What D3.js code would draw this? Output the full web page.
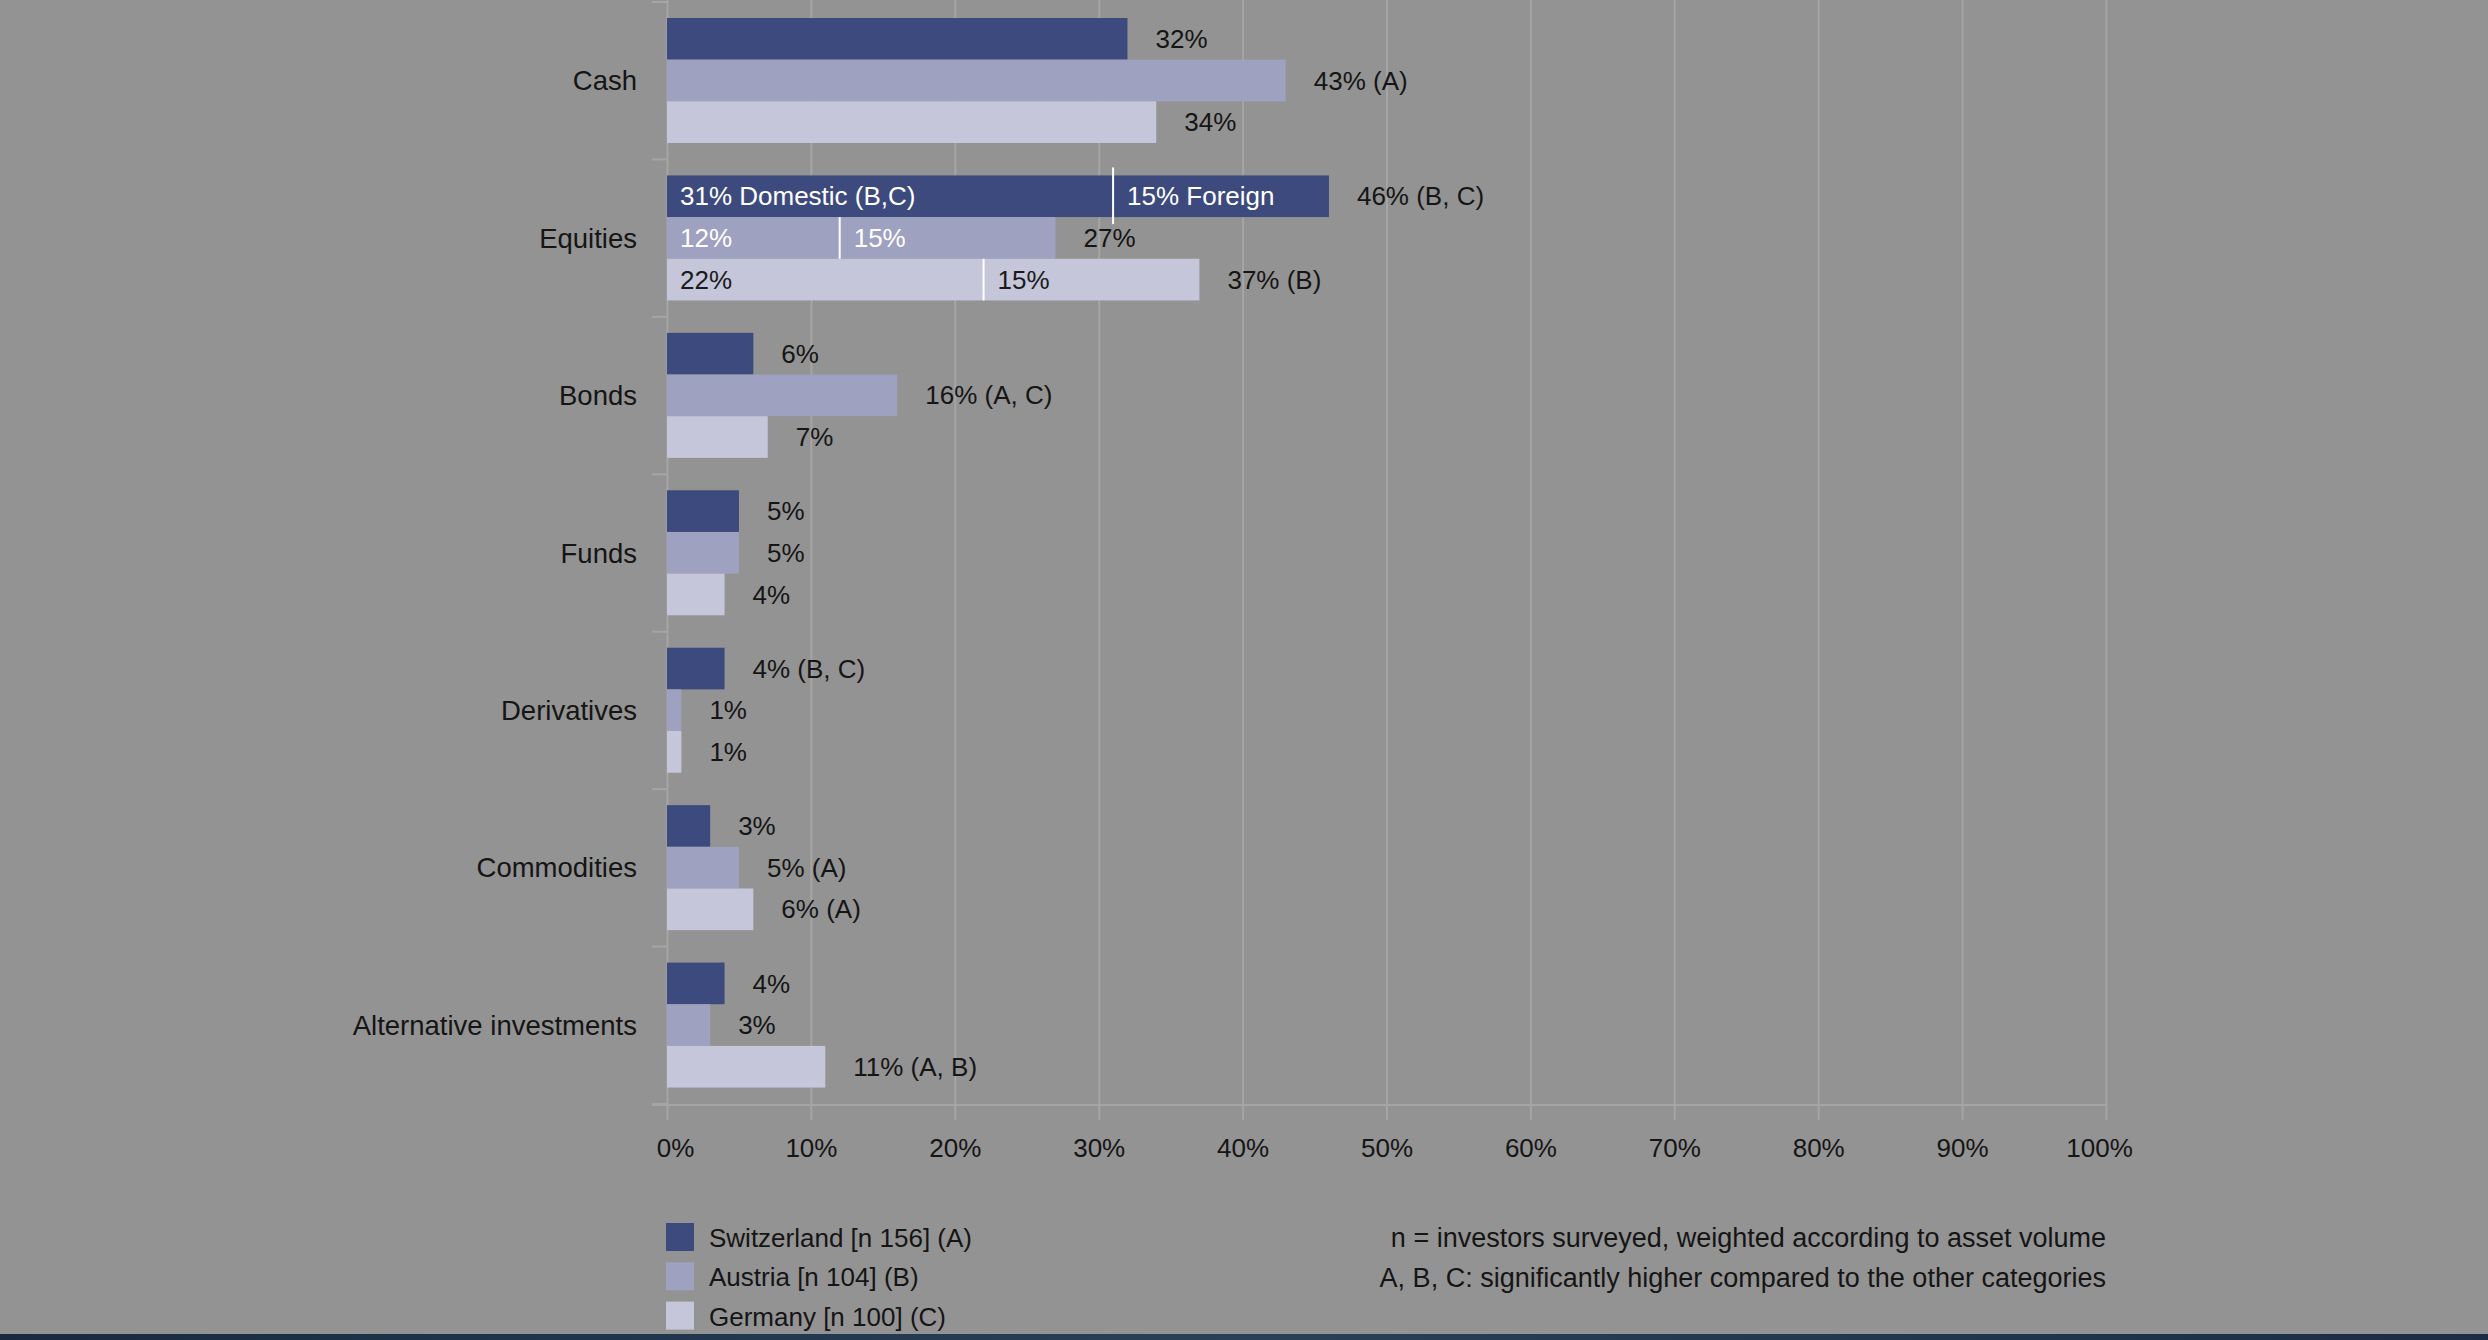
<!DOCTYPE html>
<html>
<head>
<meta charset="utf-8">
<script src="https://cdn.jsdelivr.net/npm/d3@7"></script>
<style>
  html, body { margin: 0; padding: 0; background: #939393; }
  svg { display: block; font-family: "Liberation Sans", Arial, sans-serif; }
  .grid line { stroke: #a5a5a5; stroke-width: 2; }
  .grid text { fill: #151515; font-size: 26px; }
  .cat text { fill: #151515; font-size: 27.5px; }
  .val { fill: #151515; font-size: 26px; }
  .note { fill: #151515; font-size: 27px; }
</style>
</head>
<body>
<svg id="chart" width="2488" height="1340"></svg>
<script>
// ------------------------------
// asset allocation by country, share of invested assets
// ------------------------------

var categories = ["Cash", "Equities", "Bonds", "Funds", "Derivatives", "Commodities", "Alternative investments"];
var series     = ["Switzerland", "Austria", "Germany"];
var legendText = ["Switzerland [n 156] (A)", "Austria [n 104] (B)", "Germany [n 100] (C)"];

// values in percent, one array per country
var swiss   = [32, 46, 6, 5, 4, 3, 4];
var austria = [43, 27, 16, 5, 1, 5, 3];
var germany = [34, 37, 7, 4, 1, 6, 11];

// significance markers next to the value
var swissSig   = ["", "B, C", "", "", "B, C", "", ""];
var austriaSig = ["A", "", "A, C", "", "", "A", ""];
var germanySig = ["", "B", "", "", "", "A", "A, B"];

// equities split: domestic / foreign
var equityDomestic = [31, 12, 22];
var equityForeign  = [15, 15, 15];
var domesticText   = ["31% Domestic (B,C)", "12%", "22%"];
var foreignText    = ["15% Foreign", "15%", "15%"];

var xTicks = [0, 10, 20, 30, 40, 50, 60, 70, 80, 90, 100];

var notes = ["n = investors surveyed, weighted according to asset volume",
             "A, B, C: significantly higher compared to the other categories"];

var colors = ["#3d4a7d", "#9ea1c0", "#c5c6da"];
var insideColors = ["#ffffff", "#ffffff", "#1a1a1a"];

var svg = d3.select("#chart");

svg.append("rect").attr("width", 2488).attr("height", 1340).attr("fill", "#939393");

var x  = d3.scaleLinear().domain([0, 100]).range([667, 2106]);
var y0 = d3.scaleBand().domain(categories).range([2, 1104]);
var y1 = d3.scaleBand().domain(series).range([16, 141]);
var axisY = 1105;

// vertical grid lines + bottom tick labels
var gx = svg.append("g")
    .attr("class", "grid")
    .attr("transform", "translate(0," + (axisY + 15) + ")")
    .call(d3.axisBottom(x).tickValues(xTicks).tickSize(-(axisY + 15)).tickPadding(19)
          .tickFormat(function(d){ return d + "%"; }));
gx.select(".domain").remove();
gx.selectAll(".tick text").attr("dx", function(d){ return d == 0 ? 8 : (d == 100 ? -7 : 0); });

// horizontal axis line and category boundary ticks
svg.append("line")
    .attr("x1", 652).attr("x2", x(100)).attr("y1", axisY).attr("y2", axisY)
    .attr("stroke", "#a5a5a5").attr("stroke-width", 2);

var bounds = categories.map(function(c){ return y0(c); }).concat([y0.range()[1]]);
svg.selectAll(".bound")
    .data(bounds)
  .enter().append("line")
    .attr("x1", 652).attr("x2", x(0))
    .attr("y1", function(d){ return d; }).attr("y2", function(d){ return d; })
    .attr("stroke", "#a5a5a5").attr("stroke-width", 2);

// category labels
var gy = svg.append("g")
    .attr("class", "cat")
    .attr("transform", "translate(" + x(0) + ",0)")
    .call(d3.axisLeft(y0).tickSize(0).tickPadding(30));
gy.select(".domain").remove();
gy.selectAll(".tick text").attr("dy", "0.35em");

// rows: one per category and country
var values = [swiss, austria, germany];
var sigs = [swissSig, austriaSig, germanySig];
var rows = [];
series.forEach(function(s, si){
    categories.forEach(function(c, ci){
        var sig = sigs[si][ci];
        rows.push({cat: c, ser: s, si: si, ci: ci, v: values[si][ci],
                   label: values[si][ci] + "%" + (sig ? " (" + sig + ")" : "")});
    });
});

function rowY(d){ return y0(d.cat) + y1(d.ser); }

svg.selectAll(".bar")
    .data(rows)
  .enter().append("rect")
    .attr("class", "bar")
    .attr("x", x(0))
    .attr("y", rowY)
    .attr("width", function(d){ return x(d.v) - x(0); })
    .attr("height", y1.bandwidth())
    .attr("fill", function(d){ return colors[d.si]; });

svg.selectAll(".val")
    .data(rows)
  .enter().append("text")
    .attr("class", "val")
    .attr("x", function(d){ return x(d.v) + 28; })
    .attr("y", function(d){ return rowY(d) + y1.bandwidth() / 2; })
    .attr("dy", "0.35em")
    .text(function(d){ return d.label; });

// equities split dividers and inner labels
var split = series.map(function(s, si){
    return {ser: s, si: si, dom: equityDomestic[si], tDom: domesticText[si], tFor: foreignText[si]};
});
function splitY(d){ return y0("Equities") + y1(d.ser); }

svg.selectAll(".divider")
    .data(split)
  .enter().append("line")
    .attr("x1", function(d){ return x(d.dom); }).attr("x2", function(d){ return x(d.dom); })
    .attr("y1", function(d){ return splitY(d) - (d.si == 0 ? 8 : 0); })
    .attr("y2", function(d){ return splitY(d) + y1.bandwidth() + (d.si == 0 ? 7 : 0); })
    .attr("stroke", "#ffffff").attr("stroke-width", 2);

svg.selectAll(".inDom")
    .data(split)
  .enter().append("text")
    .attr("class", "val")
    .attr("x", x(0) + 13)
    .attr("y", function(d){ return splitY(d) + y1.bandwidth() / 2; })
    .attr("dy", "0.35em")
    .style("fill", function(d){ return insideColors[d.si]; })
    .text(function(d){ return d.tDom; });

svg.selectAll(".inFor")
    .data(split)
  .enter().append("text")
    .attr("class", "val")
    .attr("x", function(d){ return x(d.dom) + 14; })
    .attr("y", function(d){ return splitY(d) + y1.bandwidth() / 2; })
    .attr("dy", "0.35em")
    .style("fill", function(d){ return insideColors[d.si]; })
    .text(function(d){ return d.tFor; });

// legend
var legend = svg.selectAll(".legend")
    .data(legendText)
  .enter().append("g")
    .attr("transform", function(d, i){ return "translate(666," + (1223 + i * 39.3) + ")"; });
legend.append("rect")
    .attr("width", 28).attr("height", 28)
    .attr("fill", function(d, i){ return colors[i]; });
legend.append("text")
    .attr("class", "val")
    .attr("x", 43).attr("y", 24)
    .text(function(d){ return d; });

// notes on the right
svg.selectAll(".note")
    .data(notes)
  .enter().append("text")
    .attr("class", "note")
    .attr("text-anchor", "end")
    .attr("x", 2106)
    .attr("y", function(d, i){ return 1247 + i * 39.5; })
    .text(function(d){ return d; });

// dark band at the bottom edge
var grad = svg.append("defs").append("linearGradient").attr("id", "band");
grad.append("stop").attr("offset", "0%").attr("stop-color", "#172a40");
grad.append("stop").attr("offset", "50%").attr("stop-color", "#2a4058");
grad.append("stop").attr("offset", "100%").attr("stop-color", "#1a2d44");
svg.append("rect")
    .attr("x", 0).attr("y", 1334).attr("width", 2488).attr("height", 6)
    .attr("fill", "url(#band)");
</script>
</body>
</html>
